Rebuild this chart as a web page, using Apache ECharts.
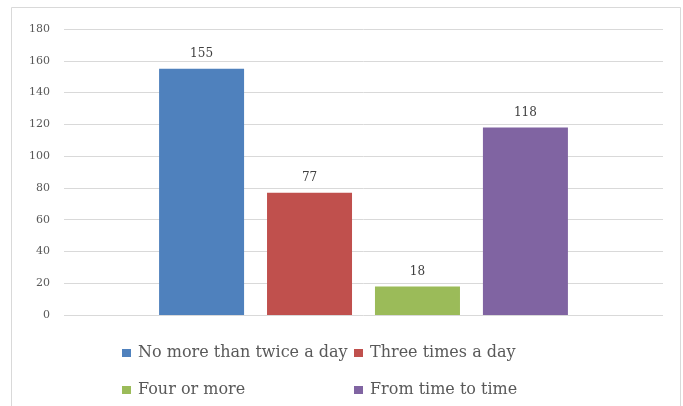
<!DOCTYPE html>
<html>
<head>
<meta charset="utf-8">
<script src="https://cdn.jsdelivr.net/npm/echarts@6/dist/echarts.min.js"></script>
<style>
  html, body { margin: 0; padding: 0; background: #fff; }
  #chart { width: 683px; height: 406px; }
</style>
</head>
<body>
<div id="chart"></div>
<script>
// Brushing frequency responses
const categories = ['Frequency'];
const seriesNames = ['No more than twice a day', 'Three times a day', 'Four or more', 'From time to time'];
const seriesValues = [155, 77, 18, 118];
const seriesColors = ['#4F81BD', '#C0504D', '#9BBB59', '#8064A2'];
const yTicks = { min: 0, max: 180, interval: 20 };

const serif = 'DejaVu Serif';
const chart = echarts.init(document.getElementById('chart'));

const series = seriesNames.map((name, i) => ({
  name: name,
  type: 'bar',
  data: [seriesValues[i]],
  barWidth: 85,
  barGap: '27%',
  itemStyle: { color: seriesColors[i] },
  label: {
    show: true,
    position: 'top',
    distance: 9,
    color: '#404040',
    fontFamily: serif,
    fontSize: 12
  }
}));

const legendCommon = {
  orient: 'vertical',
  itemWidth: 9,
  itemHeight: 8,
  itemGap: 21,
  icon: 'rect',
  textStyle: { fontFamily: serif, fontSize: 16, color: '#595959', padding: [0, 0, 0, 2] }
};

chart.setOption({
  animation: false,
  backgroundColor: '#fff',
  graphic: [{
    type: 'rect',
    shape: { x: 11.5, y: 7.5, width: 669, height: 410 },
    style: { fill: 'none', stroke: '#d9d9d9', lineWidth: 1 },
    silent: true
  }],
  grid: { left: 64, right: 20, top: 29, bottom: 91 },
  legend: [
    Object.assign({ left: 117, top: 340, data: [seriesNames[0], seriesNames[2]] }, legendCommon),
    Object.assign({ left: 349, top: 340, data: [seriesNames[1], seriesNames[3]] }, legendCommon)
  ],
  xAxis: {
    type: 'category',
    data: categories,
    axisLine: { show: false },
    axisTick: { show: false },
    axisLabel: { show: false }
  },
  yAxis: {
    type: 'value',
    min: yTicks.min,
    max: yTicks.max,
    interval: yTicks.interval,
    axisLine: { show: false },
    axisTick: { show: false },
    axisLabel: { color: '#595959', fontFamily: serif, fontSize: 11, margin: 14 },
    splitLine: { lineStyle: { color: '#d9d9d9', width: 1 } }
  },
  series: series
});
</script>
</body>
</html>
